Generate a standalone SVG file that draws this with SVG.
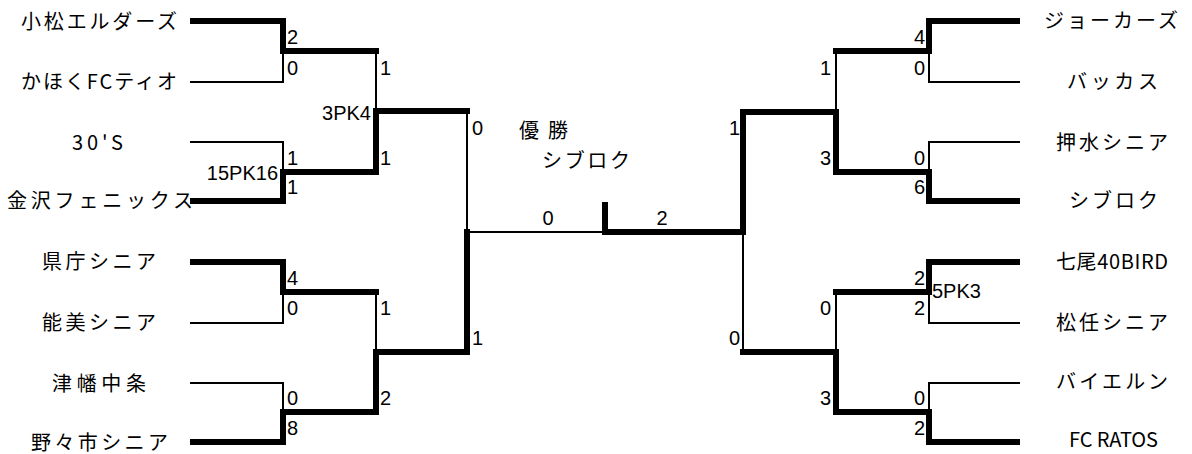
<svg xmlns="http://www.w3.org/2000/svg" width="1192" height="454" viewBox="0 0 1192 454">
<style>
.thin{fill:none;stroke:#000;stroke-width:2}
.thick{fill:none;stroke:#000;stroke-width:6;stroke-linecap:square;stroke-linejoin:miter}
.team{font-family:"Noto Sans CJK JP","Liberation Sans",sans-serif;font-size:20px;fill:#000}
.sc{font-family:"Liberation Sans",Arial,sans-serif;font-size:20px;fill:#000}
.e{text-anchor:end}
.m{text-anchor:middle}
</style>
<rect width="1192" height="454" fill="#fff"/>
<g id="connectors">
<path class="thin" d="M190,82 H283 V51"/>
<path class="thin" d="M190,142 H283 V172"/>
<path class="thin" d="M376,51 V111"/>
<path class="thin" d="M467,111 V232 H605"/>
<path class="thin" d="M190,323 H283 V292"/>
<path class="thin" d="M190,383 H283 V412"/>
<path class="thin" d="M376,292 V352"/>
<path class="thin" d="M1020,82 H929 V51"/>
<path class="thin" d="M1020,142 H929 V172"/>
<path class="thin" d="M836,51 V112"/>
<path class="thin" d="M743,232 V352"/>
<path class="thin" d="M1020,323 H929 V292"/>
<path class="thin" d="M1020,383 H929 V412"/>
<path class="thin" d="M836,292 V352"/>
<path class="thick" d="M193,21 H283 V51 H376"/>
<path class="thick" d="M193,201 H283 V172 H376 V111 H467"/>
<path class="thick" d="M193,262 H283 V292 H376"/>
<path class="thick" d="M193,442 H283 V412 H376 V352 H467 V232"/>
<path class="thick" d="M605,205 V232"/>
<path class="thick" d="M605,232 H743 V112 H836 V172 H929 V201 H1017"/>
<path class="thick" d="M1017,21 H929 V51 H836"/>
<path class="thick" d="M1017,262 H929 V292 H836"/>
<path class="thick" d="M743,352 H836 V412 H929 V442 H1017"/>
</g>
<g id="scores">
<text class="sc" x="287" y="44">2</text>
<text class="sc" x="287" y="75">0</text>
<text class="sc" x="287" y="165">1</text>
<text class="sc" x="287" y="194">1</text>
<text class="sc" x="287" y="285">4</text>
<text class="sc" x="287" y="315">0</text>
<text class="sc" x="287" y="405">0</text>
<text class="sc" x="287" y="435">8</text>
<text class="sc" x="380" y="75">1</text>
<text class="sc" x="380" y="165">1</text>
<text class="sc" x="380" y="315">1</text>
<text class="sc" x="380" y="405">2</text>
<text class="sc" x="472" y="135">0</text>
<text class="sc" x="472" y="345">1</text>
<text class="sc m" x="548" y="225">0</text>
<text class="sc m" x="662" y="225">2</text>
<text class="sc e" x="925" y="44">4</text>
<text class="sc e" x="925" y="75">0</text>
<text class="sc e" x="925" y="165">0</text>
<text class="sc e" x="925" y="194">6</text>
<text class="sc e" x="925" y="285">2</text>
<text class="sc e" x="925" y="315">2</text>
<text class="sc e" x="925" y="405">0</text>
<text class="sc e" x="925" y="435">2</text>
<text class="sc e" x="831" y="75">1</text>
<text class="sc e" x="831" y="165">3</text>
<text class="sc e" x="831" y="315">0</text>
<text class="sc e" x="831" y="405">3</text>
<text class="sc e" x="740" y="135">1</text>
<text class="sc e" x="740" y="345">0</text>
<text class="sc e" x="278" y="180">15PK16</text>
<text class="sc e" x="371" y="120">3PK4</text>
<text class="sc" x="932" y="298">5PK3</text>
</g>
<g id="title">
<text class="team" x="519" y="138" textLength="49" lengthAdjust="spacing">優勝</text>
<text class="team" x="542" y="168" textLength="88" lengthAdjust="spacing">シブロク</text>
</g>
<g id="team-l1"><text class="team" x="21" y="29" textLength="156" lengthAdjust="spacing">小松エルダーズ</text></g>
<g id="team-l2"><text class="team" x="21" y="89" textLength="156" lengthAdjust="spacing">かほくFCティオ</text></g>
<g id="team-l3"><text class="team" x="72" y="150" textLength="51" lengthAdjust="spacing">30'S</text></g>
<g id="team-l4"><text class="team" x="7" y="208" textLength="186" lengthAdjust="spacing">金沢フェニックス</text></g>
<g id="team-l5"><text class="team" x="42" y="269" textLength="114" lengthAdjust="spacing">県庁シニア</text></g>
<g id="team-l6"><text class="team" x="42" y="330" textLength="114" lengthAdjust="spacing">能美シニア</text></g>
<g id="team-l7"><text class="team" x="52" y="391" textLength="94" lengthAdjust="spacing">津幡中条</text></g>
<g id="team-l8"><text class="team" x="31" y="450" textLength="137" lengthAdjust="spacing">野々市シニア</text></g>
<g id="team-r1"><text class="team" x="1044" y="28" textLength="134" lengthAdjust="spacing">ジョーカーズ</text></g>
<g id="team-r2"><text class="team" x="1067" y="89" textLength="91" lengthAdjust="spacing">バッカス</text></g>
<g id="team-r3"><text class="team" x="1056" y="150" textLength="112" lengthAdjust="spacing">押水シニア</text></g>
<g id="team-r4"><text class="team" x="1069" y="208" textLength="89" lengthAdjust="spacing">シブロク</text></g>
<g id="team-r5"><text class="team" x="1056" y="269" textLength="112" lengthAdjust="spacing">七尾40BIRD</text></g>
<g id="team-r6"><text class="team" x="1056" y="330" textLength="112" lengthAdjust="spacing">松任シニア</text></g>
<g id="team-r7"><text class="team" x="1056" y="389" textLength="112" lengthAdjust="spacing">バイエルン</text></g>
<g id="team-r8"><text class="team" x="1069" y="447" textLength="89" lengthAdjust="spacing">FC RATOS</text></g>
</svg>
